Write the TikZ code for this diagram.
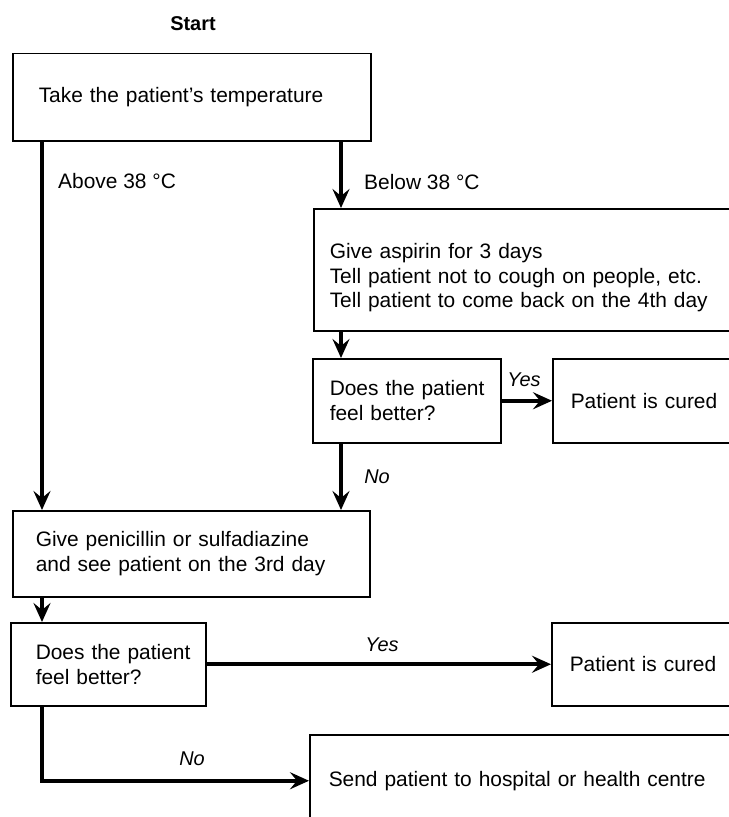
\documentclass[tikz,border=0pt]{standalone}
\usepackage{fontspec}
\setmainfont{Liberation Sans}
\usetikzlibrary{arrows.meta}
\begin{document}
\begin{tikzpicture}[x=1bp,y=-1bp,
  box/.style={draw, line width=1.5bp, anchor=north west, align=left,
    inner ysep=0pt, font=\fontsize{21}{25.5}\selectfont},
  flow/.style={line width=4.2bp, -{Stealth[length=19bp,width=17bp,inset=7bp]}},
  lbl/.style={font=\fontsize{21}{24}\selectfont, inner sep=0pt},
  yn/.style={font=\fontsize{20}{24}\selectfont\itshape, inner sep=0pt}]
\clip (0,0) rectangle (729,817);

% columns of the two vertical flows
\coordinate (lx) at (42,0);
\coordinate (rx) at (341,0);

\node[font=\bfseries\fontsize{20}{22}\selectfont] (start) at (193,24) {Start};

\node[box, minimum width=358bp, minimum height=87bp, inner xsep=26bp, text width=306bp]
  (temp) at (12,53) {Take the patient’s temperature};

\node[box, minimum width=430bp, minimum height=122bp, inner xsep=16bp, text width=398bp,
  font=\fontsize{21}{25}\selectfont]
  (asp) at (313,208) {\rule{0pt}{31bp}Give aspirin for 3 days\\Tell patient not to cough on people, etc.\\Tell patient to come back on the 4th day};

\node[box, minimum width=188bp, minimum height=84bp, inner xsep=17bp, text width=154bp]
  (q1) at (312,358) {\mbox{Does the patient}\\\mbox{feel better?}};

\node[box, minimum width=190bp, minimum height=84bp, inner xsep=18bp, text width=154bp]
  (cure1) at (552,358) {Patient is cured};

\node[box, minimum width=357bp, minimum height=86bp, inner xsep=23bp, text width=311bp]
  (pen) at (12,510) {Give penicillin or sulfadiazine\\and see patient on the 3rd day};

\node[box, minimum width=195bp, minimum height=83bp, inner xsep=25bp, text width=145bp]
  (q2) at (10,622) {\mbox{Does the patient}\\\mbox{feel better?}};

\node[box, minimum width=190bp, minimum height=83bp, inner xsep=18bp, text width=154bp]
  (cure2) at (551,622) {Patient is cured};

\node[box, minimum width=430bp, minimum height=92bp, inner xsep=19bp, text width=392bp]
  (send) at (309,734) {Send patient to hospital or health centre};

% connectors
\draw[flow] (temp.south -| lx) -- (pen.north -| lx);
\draw[flow] (temp.south -| rx) -- (asp.north -| rx);
\draw[flow] (asp.south -| rx) -- (q1.north -| rx);
\draw[flow] (q1.east) -- (cure1.west);
\draw[flow] (q1.south -| rx) -- (pen.north -| rx);
\draw[flow] (pen.south -| lx) -- (q2.north -| lx);
\draw[flow] (q2.east) -- (cure2.west);
\draw[flow] (q2.south -| lx) |- (send.west);

% branch labels
\node[lbl, anchor=west] (hot) at (58,181) {Above 38 °C};
\node[lbl, anchor=west] (cool) at (364,182) {Below 38 °C};
\node[yn] (yes1) at (524,380) {Yes};
\node[yn] (no1) at (377,477) {No};
\node[yn] (yes2) at (382,645) {Yes};
\node[yn] (no2) at (192,759) {No};
\end{tikzpicture}
\end{document}
